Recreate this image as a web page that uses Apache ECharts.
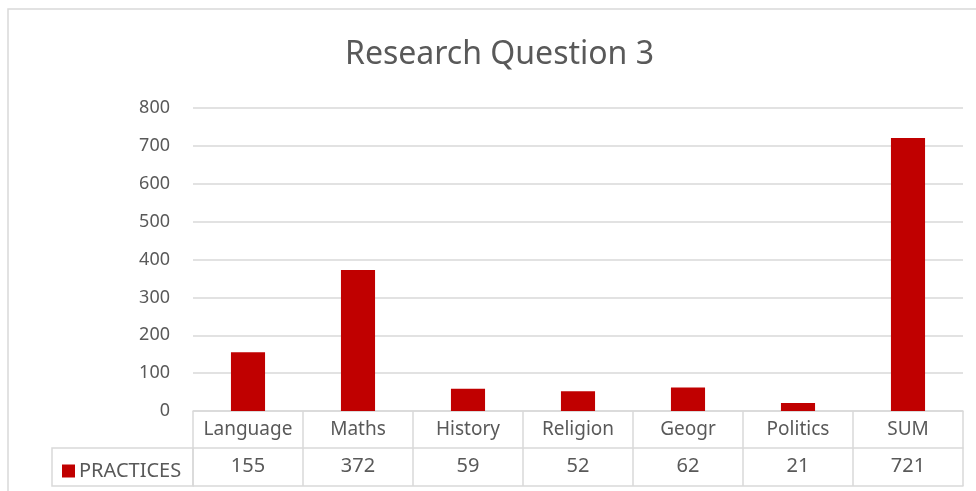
<!DOCTYPE html>
<html>
<head>
<meta charset="utf-8">
<script src="https://cdn.jsdelivr.net/npm/echarts@6/dist/echarts.min.js"></script>
<style>html,body{margin:0;padding:0;background:#fff;}#c{width:976px;height:491px;}</style>
</head>
<body>
<div id="c"></div>
<script>
var categories = ['Language', 'Maths', 'History', 'Religion', 'Geogr', 'Politics', 'SUM'];
var practices = [155, 372, 59, 52, 62, 21, 721];
var seriesName = 'PRACTICES';
var titleText = 'Research Question 3';

var FONT = 'Noto Sans';
var TXT = '#595959';
var LINE = '#D9D9D9';
var chart = echarts.init(document.getElementById('c'));
chart.setOption({
  animation: false,
  backgroundColor: '#fff',
  title: {
    text: titleText, left: 340, top: 34,
    textStyle: {fontFamily: FONT, fontSize: 32, fontWeight: 'normal', color: TXT}
  },
  legend: {
    left: 57, top: 456, itemWidth: 13, itemHeight: 13, icon: 'rect', itemGap: 4,
    textStyle: {fontFamily: FONT, fontSize: 20, color: TXT, padding: [0, 0, 0, -1]},
    data: [seriesName]
  },
  grid: {left: 193, right: 13, top: 108, bottom: 80, containLabel: false},
  xAxis: [
    {
      type: 'category', data: categories, position: 'bottom',
      axisLine: {show: true, lineStyle: {color: LINE, width: 1.5}},
      axisTick: {show: true, length: 37, interval: 0, lineStyle: {color: LINE, width: 1.5}},
      axisLabel: {fontFamily: FONT, fontSize: 19, color: TXT, margin: 9, interval: 0}
    },
    {
      type: 'category', data: practices.map(String), position: 'bottom', offset: 37,
      axisLine: {show: true, lineStyle: {color: LINE, width: 1.5}},
      axisTick: {show: true, length: 38, interval: 0, lineStyle: {color: LINE, width: 1.5}},
      axisLabel: {fontFamily: FONT, fontSize: 20, color: TXT, margin: 8, interval: 0}
    },
    {
      type: 'category', data: categories, position: 'bottom', offset: 75,
      axisLine: {show: true, lineStyle: {color: LINE, width: 1.5}},
      axisTick: {show: false}, axisLabel: {show: false}
    }
  ],
  yAxis: {
    type: 'value', min: 0, max: 800, interval: 100,
    axisLine: {show: false}, axisTick: {show: false},
    axisLabel: {fontFamily: FONT, fontSize: 18, color: TXT, margin: 23},
    splitLine: {lineStyle: {color: LINE, width: 1.5}}
  },
  graphic: [
    {type: 'rect', shape: {x: 52, y: 448, width: 141, height: 38}, style: {fill: 'none', stroke: LINE, lineWidth: 1.5}, z: 10},
    {type: 'polyline', shape: {points: [[8, 491], [8, 9], [976, 9]]}, style: {fill: 'none', stroke: LINE, lineWidth: 1.5}, z: 10}
  ],
  series: [{
    name: seriesName, type: 'bar', data: practices, barWidth: '31%',
    itemStyle: {color: '#C00000'}
  }]
});
</script>
</body>
</html>
